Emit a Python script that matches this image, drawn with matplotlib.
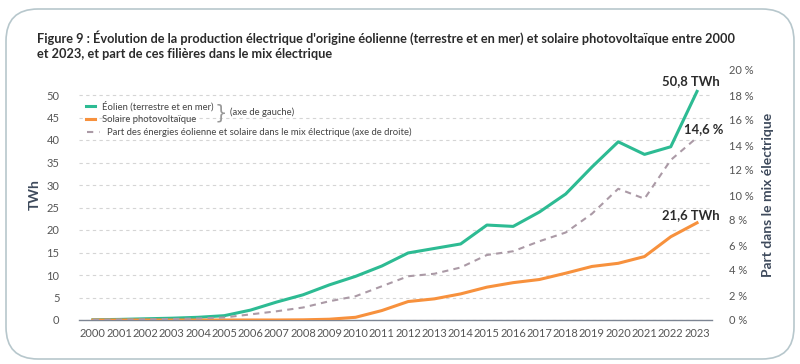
import numpy as np
import matplotlib.pyplot as plt
from matplotlib.patches import FancyBboxPatch

plt.rcParams["font.family"] = ["Lato", "DejaVu Sans"]

years = list(range(2000, 2024))
eolien = [0.05, 0.13, 0.27, 0.4, 0.6, 0.96, 2.2, 4.0, 5.6, 7.8, 9.7, 12.0,
          14.9, 15.9, 16.9, 21.1, 20.8, 24.0, 28.0, 34.0, 39.6, 36.8, 38.5, 50.8]
solaire = [0, 0, 0, 0, 0, 0, 0, 0, 0.04, 0.17, 0.6, 2.1,
           4.1, 4.7, 5.8, 7.3, 8.3, 9.0, 10.4, 11.9, 12.6, 14.1, 18.5, 21.6]
part = [0.01, 0.03, 0.05, 0.08, 0.12, 0.2, 0.45, 0.7, 1.0, 1.5, 1.9, 2.7,
        3.5, 3.7, 4.2, 5.2, 5.5, 6.3, 7.0, 8.5, 10.5, 9.7, 12.8, 14.6]

c_eol = "#2dbb93"
c_sol = "#f7913d"
c_part = "#ab9aa6"
c_txt = "#3e4a5c"
c_tick = "#555555"
c_leg = "#444444"

fig = plt.figure(figsize=(8, 3.64), dpi=100)
fig.patches.append(FancyBboxPatch((6 / 800, 5 / 364), 788 / 800, 350 / 364,
                                  boxstyle="round,pad=0,rounding_size=0.04",
                                  transform=fig.transFigure, fill=False,
                                  edgecolor="#b7c7cc", lw=1.2, mutation_aspect=800 / 364))

fig.text(37 / 800, 1 - 38 / 364,
         "Figure 9 : Évolution de la production électrique d'origine éolienne (terrestre et en mer) et solaire photovoltaïque entre 2000",
         fontsize=9.15, fontweight="bold", color="#2b2b2b", va="center")
fig.text(37 / 800, 1 - 54 / 364,
         "et 2023, et part de ces filières dans le mix électrique",
         fontsize=9.15, fontweight="bold", color="#2b2b2b", va="center")

ax = fig.add_axes([79 / 800, 44 / 364, 633 / 800, 250 / 364])
ax2 = ax.twinx()

ax.plot(years, eolien, color=c_eol, lw=2.2, zorder=3)
ax.plot(years, solaire, color=c_sol, lw=2.2, zorder=3)
ax2.plot(years, part, color=c_part, lw=1.5, ls=(0, (3, 2.5)), zorder=2)

ax.set_xlim(1999.47, 2023.57)
ax.set_ylim(0, 50 * 20 / 18)
ax2.set_ylim(0, 20)
ax.set_yticks(range(0, 51, 5))
ax2.set_yticks(range(0, 21, 2))
ax2.set_yticklabels([f"{v} %" for v in range(0, 21, 2)])
ax.set_xticks(years)
ax.set_xticklabels([str(y) for y in years])

for a in (ax, ax2):
    for s in a.spines.values():
        s.set_visible(False)
    a.tick_params(length=0, labelsize=8, colors=c_tick)
ax.spines["bottom"].set_visible(True)
ax.spines["bottom"].set_color("#7d8593")
ax.spines["bottom"].set_linewidth(1)
ax.tick_params(axis="y", pad=14)
ax2.tick_params(axis="y", pad=12)
ax.tick_params(axis="x", pad=6)
ax.yaxis.grid(True, ls=(0, (3, 3)), color="#d5d5d5", lw=0.8)
ax.set_axisbelow(True)

ax.set_ylabel("TWh", fontsize=10, fontweight="bold", color=c_txt, labelpad=4)
ax2.set_ylabel("Part dans le mix électrique", fontsize=10, fontweight="bold",
               color=c_txt, labelpad=6)

ax.annotate("50,8 TWh", (years[-1], eolien[-1]), xytext=(-4.3, 7.2), textcoords="offset points",
            ha="center", va="center", fontsize=9.4, fontweight="bold", color="#2b2b2b")
ax2.annotate("14,6 %", (years[-1], part[-1]), xytext=(5, 6), textcoords="offset points",
             ha="center", va="center", fontsize=9.4, fontweight="bold", color="#2b2b2b")
ax.annotate("21,6 TWh", (years[-1], solaire[-1]), xytext=(-4.3, 5.6), textcoords="offset points",
            ha="center", va="center", fontsize=9.4, fontweight="bold", color="#2b2b2b")

# legend drawn by hand (axes fraction)
tr = ax.transAxes
ax.plot([0.011, 0.025], [0.856, 0.856], color=c_eol, lw=2.2, transform=tr, clip_on=False)
ax.plot([0.011, 0.025], [0.804, 0.804], color=c_sol, lw=2.2, transform=tr, clip_on=False)
ax.plot([0.012, 0.033], [0.752, 0.752], color=c_part, lw=1.5, ls=(0, (3, 3)),
        transform=tr, clip_on=False)
ax.text(0.036, 0.856, "Éolien (terrestre et en mer)", transform=tr, fontsize=6.8,
        color=c_leg, va="center")
ax.text(0.036, 0.804, "Solaire photovoltaïque", transform=tr, fontsize=6.8,
        color=c_leg, va="center")
ax.text(0.044, 0.752, "Part des énergies éolienne et solaire dans le mix électrique (axe de droite)",
        transform=tr, fontsize=6.8, color=c_leg, va="center")
ax.text(0.214, 0.83, "}", transform=tr, fontsize=14, color="#999999",
        va="center", ha="left", family="DejaVu Sans", fontweight="normal")
ax.text(0.238, 0.832, "(axe de gauche)", transform=tr, fontsize=6.8,
        color=c_leg, va="center", ha="left")

fig.savefig("out.png", dpi=100)
